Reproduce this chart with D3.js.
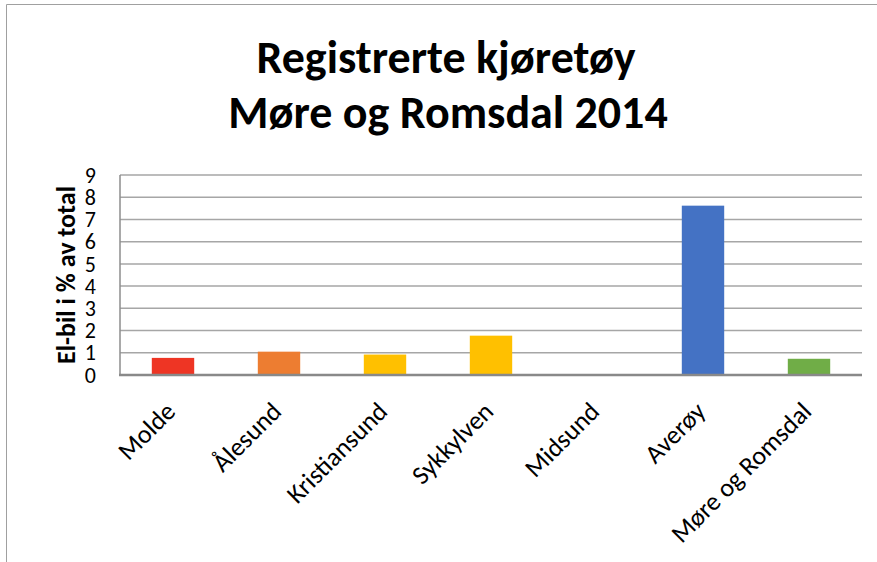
<!DOCTYPE html>
<html>
<head>
  <meta charset="utf-8">
  <script src="https://cdn.jsdelivr.net/npm/d3@7"></script>
  <style>
    body { margin: 0; background: #fff; }
    text { font-family: Carlito, Calibri, Lato, sans-serif; fill: #000; }
  </style>
</head>
<body>
  <div id="chart"></div>
  <script>
    // data
    var kommuner = ["Molde", "Ålesund", "Kristiansund", "Sykkylven", "Midsund", "Averøy", "Møre og Romsdal"];
    var elbilPst = [0.77, 1.05, 0.92, 1.77, 0, 7.62, 0.73];
    var barColours = ["#EE3524", "#ED7D31", "#FFC000", "#FFC000", "#FFC000", "#4472C4", "#70AD47"];
    var yTicks = [0, 1, 2, 3, 4, 5, 6, 7, 8, 9];

    var width = 877, height = 562;
    var margin = { top: 175, right: 15, bottom: 187, left: 120 };

    var svg = d3.select("#chart").append("svg")
      .attr("width", width)
      .attr("height", height);

    // chart frame (left and top edges visible)
    svg.append("path")
      .attr("d", "M6.5," + height + "V4.5H" + width)
      .attr("fill", "none")
      .attr("stroke", "#a0a0a0")
      .attr("stroke-width", 1);

    var x = d3.scaleBand()
      .domain(kommuner)
      .range([margin.left, width - margin.right])
      .paddingInner(0.6)
      .paddingOuter(0.3);

    var y = d3.scaleLinear()
      .domain([0, 9])
      .range([height - margin.bottom, margin.top]);

    // gridlines
    svg.append("g")
      .selectAll("line")
      .data(yTicks.slice(1))
      .enter().append("line")
      .attr("x1", margin.left)
      .attr("x2", width - margin.right)
      .attr("y1", function (d) { return y(d); })
      .attr("y2", function (d) { return y(d); })
      .attr("stroke", "#a6a6a6")
      .attr("stroke-width", 1.5);

    // bars
    svg.append("g")
      .selectAll("rect")
      .data(elbilPst)
      .enter().append("rect")
      .attr("x", function (d, i) { return x(kommuner[i]); })
      .attr("y", function (d) { return y(d); })
      .attr("width", x.bandwidth())
      .attr("height", function (d) { return y(0) - y(d); })
      .attr("fill", function (d, i) { return barColours[i]; });

    // axes lines
    svg.append("line")
      .attr("x1", margin.left).attr("x2", margin.left)
      .attr("y1", y(9)).attr("y2", y(0))
      .attr("stroke", "#8c8c8c").attr("stroke-width", 1.5);
    svg.append("line")
      .attr("x1", margin.left - 1).attr("x2", width - margin.right)
      .attr("y1", y(0)).attr("y2", y(0))
      .attr("stroke", "#898989").attr("stroke-width", 2.5);

    // y tick labels
    svg.append("g")
      .selectAll("text")
      .data(yTicks)
      .enter().append("text")
      .attr("x", 96)
      .attr("y", function (d) { return y(d); })
      .attr("dy", "0.35em")
      .attr("text-anchor", "end")
      .style("font-size", "22px")
      .text(function (d) { return d; });

    // x labels, rotated
    svg.append("g")
      .selectAll("text")
      .data(kommuner)
      .enter().append("text")
      .attr("transform", function (d) {
        return "translate(" + (x(d) + x.bandwidth() / 2 + 4) + "," + (y(0) + 38) + ") rotate(-45)";
      })
      .attr("text-anchor", "end")
      .style("font-size", "26px")
      .text(function (d) { return d; });

    // y axis title
    svg.append("text")
      .attr("transform", "translate(75," + (y(4.5)) + ") rotate(-90)")
      .attr("text-anchor", "middle")
      .style("font-size", "26px")
      .style("font-weight", "bold")
      .text("El-bil i % av total");

    // title
    var title = svg.append("text")
      .attr("text-anchor", "middle")
      .style("font-size", "46px")
      .style("font-weight", "bold");
    title.append("tspan").attr("x", 446).attr("y", 73).text("Registrerte kjøretøy");
    title.append("tspan").attr("x", 448).attr("y", 128).text("Møre og Romsdal 2014");
  </script>
</body>
</html>
